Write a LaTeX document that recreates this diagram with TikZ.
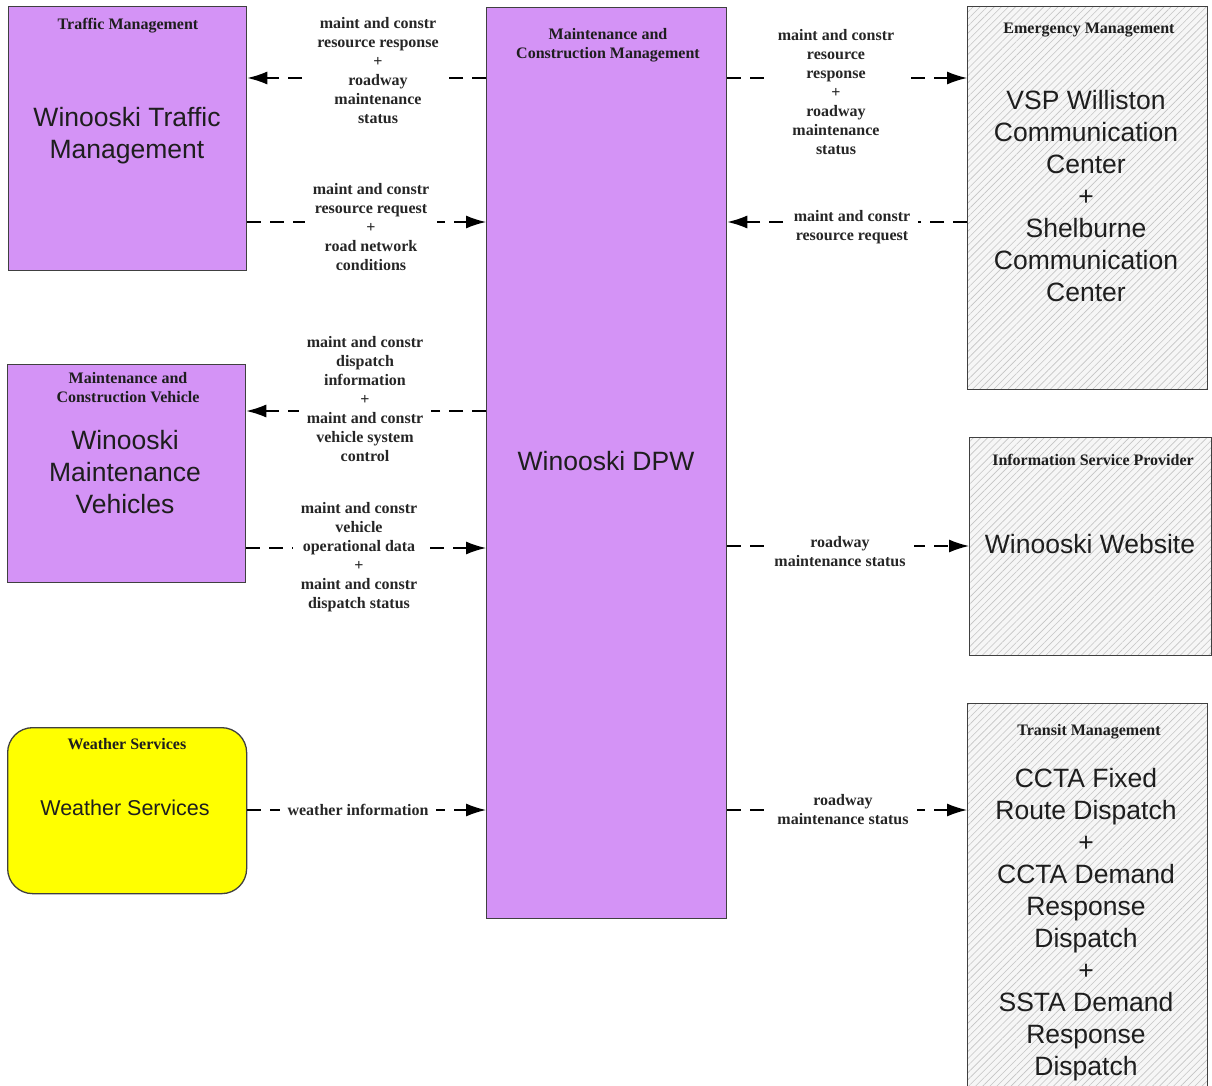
\documentclass[tikz,border=0pt]{standalone}
\usepackage{fontspec}
\setmainfont{Liberation Serif}
\newfontfamily\arialf{Liberation Sans}
\usetikzlibrary{arrows.meta,patterns.meta}
\definecolor{purp}{HTML}{D493F6}
\definecolor{boxline}{HTML}{404040}
\definecolor{hatchbg}{HTML}{F6F6F6}
\definecolor{hatchline}{HTML}{C4C4C4}
\definecolor{textdark}{HTML}{1E1E1E}
\definecolor{wsyellow}{HTML}{FFFF00}
\begin{document}
\begin{tikzpicture}[x=1pt,y=-1pt,
 box/.style={draw=boxline, line width=1.3pt, anchor=north west, inner sep=0},
 pbox/.style={box, fill=purp},
 hbox/.style={box, preaction={fill=hatchbg}, pattern={Lines[angle=45,distance=5pt,line width=0.6pt]}, pattern color=hatchline},
 hdr/.style={font=\bfseries\fontsize{16}{19}\selectfont, align=center, inner sep=0, text=textdark},
 big/.style={font=\arialf\fontsize{26.5}{32}\selectfont, align=center, inner sep=0, text=textdark},
 lbl/.style={font=\bfseries\fontsize{16}{19}\selectfont, align=center, fill=white, inner xsep=8pt, inner ysep=2pt, text=black!85},
 conn/.style={draw=black, line width=1.5pt, dash pattern=on 14pt off 9pt, -{Latex[length=20pt,width=13pt]}},
]
\useasboundingbox (0,0) rectangle (1212,1086);
\clip (0,0) rectangle (1212,1086);

% boxes
\node[pbox, minimum width=238pt, minimum height=264pt] (tm) at (8,6) {};
\node[pbox, minimum width=240pt, minimum height=911pt] (main) at (486,7) {};
\node[pbox, minimum width=238pt, minimum height=218pt] (mcv) at (7,364) {};
\node[box, fill=wsyellow, rounded corners=25pt, minimum width=239pt, minimum height=166pt] (ws) at (7,727) {};
\node[hbox, minimum width=240pt, minimum height=383pt] (em) at (967,6) {};
\node[hbox, minimum width=242pt, minimum height=218pt] (isp) at (969,437) {};
\node[hbox, minimum width=240pt, minimum height=397pt] (tr) at (967,703) {};

% box texts
\node[hdr] (tmh) at (128,26) {Traffic Management};
\node[big] (tmt) at (127,136) {Winooski Traffic\\Management};
\node[hdr] (mainh) at (608,45.5) {Maintenance and\\Construction Management};
\node[big] (maint) at (606,461) {Winooski DPW};
\node[hdr] (mcvh) at (128,387.5) {Maintenance and\\Construction Vehicle};
\node[big] (mcvt) at (125,472) {Winooski\\Maintenance\\Vehicles};
\node[hdr] (wsh) at (127,744) {Weather Services};
\node[big, font=\arialf\fontsize{21.5}{26}\selectfont] (wst) at (125,808) {Weather Services};
\node[hdr] (emh) at (1089,30) {Emergency Management};
\node[big] (emt) at (1086,196.5) {VSP Williston\\Communication\\Center\\+\\Shelburne\\Communication\\Center};
\node[hdr] (isph) at (1093,460) {Information Service Provider};
\node[big] (ispt) at (1090,544) {Winooski Website};
\node[hdr] (trh) at (1089,732) {Transit Management};
\node[big] (trt) at (1086,925) {CCTA Fixed\\Route Dispatch\\+\\CCTA Demand\\Response\\Dispatch\\+\\SSTA Demand\\Response\\Dispatch};

% connectors
\draw[conn] (main.west |- 0,78) -- (tm.east |- 0,78);
\draw[conn] (tm.east |- 0,222) -- (main.west |- 0,222);
\draw[conn] (main.east |- 0,78) -- (em.west |- 0,78);
\draw[conn] (em.west |- 0,222) -- (main.east |- 0,222);
\draw[conn] (main.west |- 0,411) -- (mcv.east |- 0,411);
\draw[conn] (mcv.east |- 0,548) -- (main.west |- 0,548);
\draw[conn] (main.east |- 0,546) -- (isp.west |- 0,546);
\draw[conn] (main.east |- 0,810) -- (tr.west |- 0,810);
\draw[conn] (ws.east |- 0,810) -- (main.west |- 0,810);

% labels
\node[lbl] (l1) at (378,71) {maint and constr\\resource response\\+\\roadway\\maintenance\\status};
\node[lbl] (l2) at (371,227) {maint and constr\\resource request\\+\\road network\\conditions};
\node[lbl] (l3) at (836,92.5) {maint and constr\\resource\\response\\+\\roadway\\maintenance\\status};
\node[lbl] (l4) at (852,227.5) {maint and constr\\resource request};
\node[lbl] (l5) at (365,399.5) {maint and constr\\dispatch\\information\\+\\maint and constr\\vehicle system\\control};
\node[lbl] (l6) at (359,557.5) {maint and constr\\vehicle\\operational data\\+\\maint and constr\\dispatch status};
\node[lbl] (l7) at (840,551.5) {roadway\\maintenance status};
\node[lbl] (l8) at (843,809.5) {roadway\\maintenance status};
\node[lbl] (l9) at (358,810) {weather information};
\end{tikzpicture}
\end{document}
